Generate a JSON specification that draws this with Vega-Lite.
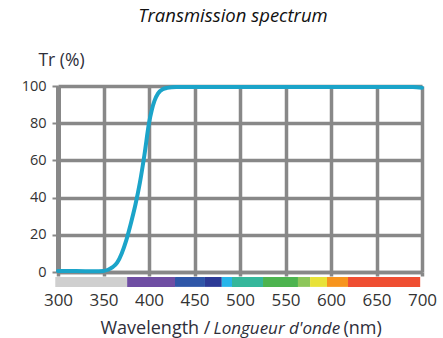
{
  "$schema": "https://vega.github.io/schema/vega-lite/v6.json",
  "width": 364,
  "height": 186,
  "autosize": "none",
  "padding": {"left": 58, "top": 86, "right": 21, "bottom": 66},
  "background": "white",
  "title": {
    "text": "Transmission spectrum",
    "font": "Open Sans",
    "fontStyle": "italic",
    "fontWeight": "normal",
    "fontSize": 18.5,
    "color": "#111111",
    "anchor": "middle",
    "frame": "group",
    "dx": -7,
    "offset": 26
  },
  "config": {
    "view": {"stroke": null},
    "axis": {
      "labelFont": "Open Sans",
      "titleFont": "Open Sans",
      "labelColor": "#333333",
      "titleColor": "#2e2e3a",
      "gridColor": "#888888",
      "domainColor": "#888888",
      "tickColor": "#888888"
    }
  },
  "datasets": {
    "bands": [
      {"band": "UV", "start": 297, "end": 376},
      {"band": "violet", "start": 376, "end": 428.6},
      {"band": "blue", "start": 428.6, "end": 461.5},
      {"band": "indigo", "start": 461.5, "end": 480},
      {"band": "cyan", "start": 480, "end": 491.2},
      {"band": "teal", "start": 491.2, "end": 525.3},
      {"band": "green", "start": 525.3, "end": 563.7},
      {"band": "lightgreen", "start": 563.7, "end": 577},
      {"band": "yellow", "start": 577, "end": 595.6},
      {"band": "orange", "start": 595.6, "end": 618.7},
      {"band": "red", "start": 618.7, "end": 698}
    ],
    "spectrum": [
      {"wl": 300, "tr": 0.5},
      {"wl": 320, "tr": 0.5},
      {"wl": 340, "tr": 0.4},
      {"wl": 350, "tr": 0.6},
      {"wl": 355, "tr": 1.2},
      {"wl": 360, "tr": 2.6},
      {"wl": 365, "tr": 5},
      {"wl": 370, "tr": 10},
      {"wl": 375, "tr": 17},
      {"wl": 380, "tr": 26},
      {"wl": 385, "tr": 36},
      {"wl": 390, "tr": 48},
      {"wl": 395, "tr": 63},
      {"wl": 400, "tr": 80},
      {"wl": 403, "tr": 87},
      {"wl": 406, "tr": 92},
      {"wl": 410, "tr": 96},
      {"wl": 415, "tr": 98.3},
      {"wl": 420, "tr": 99},
      {"wl": 430, "tr": 99.4},
      {"wl": 500, "tr": 99.5},
      {"wl": 600, "tr": 99.5},
      {"wl": 690, "tr": 99.4},
      {"wl": 700, "tr": 99}
    ]
  },
  "layer": [
    {
      "data": {"name": "bands"},
      "mark": {"type": "rect"},
      "encoding": {
        "x": {
          "field": "start",
          "type": "quantitative",
          "scale": {"domain": [300, 700], "nice": false, "zero": false},
          "axis": {
            "orient": "bottom",
            "values": [300, 350, 400, 450, 500, 550, 600, 650, 700],
            "grid": true,
            "gridWidth": 3.5,
            "domainWidth": 3.5,
            "tickSize": 4,
            "tickWidth": 3.5,
            "labelFontSize": 17,
            "labelPadding": 16,
            "labelFlush": false,
            "labelOverlap": false,
            "title": "Wavelength /",
            "titleFontSize": 18,
            "titleFontWeight": "normal",
            "titleAlign": "left",
            "titleAnchor": "start",
            "titleBaseline": "alphabetic",
            "titleX": 42,
            "titleY": 61
          }
        },
        "x2": {"field": "end"},
        "y": {
          "datum": -2.7,
          "type": "quantitative",
          "scale": {"domain": [0, 100], "nice": false},
          "axis": {
            "values": [0, 20, 40, 60, 80, 100],
            "grid": true,
            "gridWidth": 3.5,
            "domainWidth": 5,
            "tickSize": 6,
            "tickWidth": 2,
            "labelFontSize": 14.5,
            "labelPadding": 6,
            "labelOverlap": false,
            "title": "Tr (%)",
            "titleAngle": 0,
            "titleFontSize": 17.5,
            "titleFontWeight": "normal",
            "titleAlign": "center",
            "titleBaseline": "bottom",
            "titleX": 3,
            "titleY": -17
          }
        },
        "y2": {"datum": -8},
        "color": {
          "field": "band",
          "type": "nominal",
          "legend": null,
          "scale": {
            "domain": ["UV", "violet", "blue", "indigo", "cyan", "teal", "green", "lightgreen", "yellow", "orange", "red"],
            "range": ["#cfcfcf", "#6f4ea3", "#2f56a8", "#2c3a96", "#27b5ea", "#35b79b", "#4db44f", "#8dc65a", "#e8e238", "#f7941d", "#ef4e32"]
          }
        }
      }
    },
    {
      "mark": {"type": "text", "fontSize": 10, "font": "Open Sans", "color": "#555555", "baseline": "middle"},
      "encoding": {
        "x": {
          "datum": 330,
          "type": "quantitative",
          "axis": {
            "orient": "bottom",
            "grid": false,
            "domain": false,
            "ticks": false,
            "labels": false,
            "title": "Longueur d'onde",
            "titleFontSize": 17,
            "titleFontStyle": "italic",
            "titleFontWeight": "normal",
            "titleAlign": "left",
            "titleAnchor": "start",
            "titleBaseline": "alphabetic",
            "titleX": 155,
            "titleY": 61
          }
        },
        "y": {
          "datum": -5.6,
          "type": "quantitative",
          "scale": {"domain": [0, 100], "nice": false},
          "axis": {
            "values": [0, 20, 40, 60, 80, 100],
            "grid": true,
            "gridWidth": 3.5,
            "domainWidth": 5,
            "tickSize": 6,
            "tickWidth": 2,
            "labelFontSize": 14.5,
            "labelPadding": 6,
            "labelOverlap": false,
            "title": "Tr (%)",
            "titleAngle": 0,
            "titleFontSize": 17.5,
            "titleFontWeight": "normal",
            "titleAlign": "center",
            "titleBaseline": "bottom",
            "titleX": 3,
            "titleY": -17
          }
        },
        "text": {"value": "UV"}
      }
    },
    {
      "data": {"name": "spectrum"},
      "mark": {"type": "line", "color": "#1ba4c9", "strokeWidth": 4, "strokeCap": "round", "interpolate": "monotone"},
      "encoding": {
        "x": {
          "field": "wl",
          "type": "quantitative",
          "axis": {
            "orient": "bottom",
            "grid": false,
            "domain": false,
            "ticks": false,
            "labels": false,
            "title": "(nm)",
            "titleFontSize": 18,
            "titleFontWeight": "normal",
            "titleAlign": "left",
            "titleAnchor": "start",
            "titleBaseline": "alphabetic",
            "titleX": 285,
            "titleY": 61
          }
        },
        "y": {
          "field": "tr",
          "type": "quantitative",
          "scale": {"domain": [0, 100], "nice": false},
          "axis": {
            "values": [0, 20, 40, 60, 80, 100],
            "grid": true,
            "gridWidth": 3.5,
            "domainWidth": 5,
            "tickSize": 6,
            "tickWidth": 2,
            "labelFontSize": 14.5,
            "labelPadding": 6,
            "labelOverlap": false,
            "title": "Tr (%)",
            "titleAngle": 0,
            "titleFontSize": 17.5,
            "titleFontWeight": "normal",
            "titleAlign": "center",
            "titleBaseline": "bottom",
            "titleX": 3,
            "titleY": -17
          }
        }
      }
    }
  ],
  "resolve": {"axis": {"x": "independent"}}
}
